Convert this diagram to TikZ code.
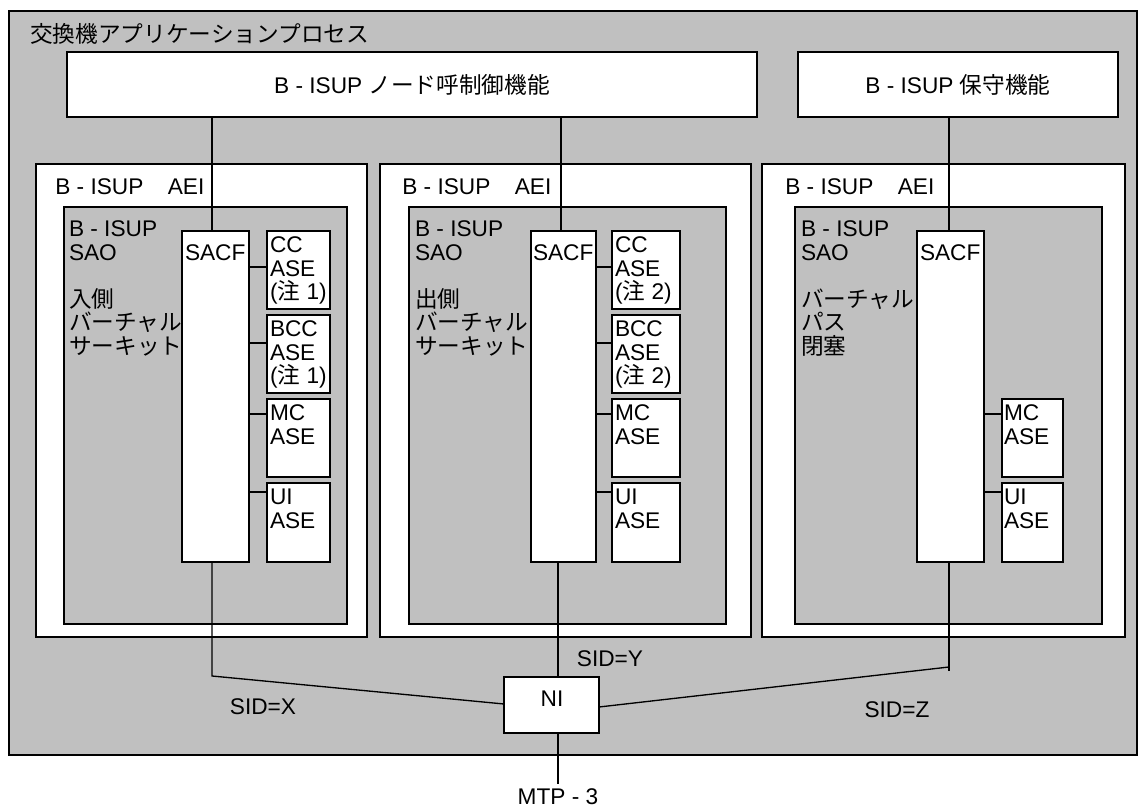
\documentclass[tikz,border=0pt]{standalone}
\usepackage{fontspec}
\setmainfont{Liberation Sans}
\newfontfamily\jp{Noto Sans CJK JP}
\definecolor{bggray}{RGB}{192,192,192}
\tikzset{
  every node/.style={font=\fontsize{17}{17.6}\selectfont},
  box/.style 2 args={draw, line width=1.3pt, anchor=north west, inner sep=0pt, outer sep=0pt,
    minimum width=#1*0.75pt, minimum height=#2*0.75pt},
  whitebox/.style 2 args={box={#1}{#2}, fill=white},
  graybox/.style 2 args={box={#1}{#2}, fill=bggray},
  lbl/.style={inner sep=0pt, outer sep=0pt, anchor=north west, align=left},
  wire/.style={line width=1.0pt},
}
\begin{document}
\lineskiplimit=-50pt
\begin{tikzpicture}[x=0.75pt,y=-0.75pt]
\useasboundingbox (0,0) rectangle (1139,809);
% outer process
\node[graybox={1128}{744}] (outer) at (9,11) {};
\node[inner sep=0pt, anchor=west] (title) at (30,34) {\jp 交換機アプリケーションプロセス};
% top functions
\node[whitebox={690}{65}] (top1) at (67,52) {B - ISUP {\jp ノード呼制御機能}};
\node[whitebox={320}{65}] (top2) at (798,52) {B - ISUP {\jp 保守機能}};
% AEI boxes
\node[whitebox={331}{473}] (aei1) at (36,164) {};
\node[whitebox={371}{473}] (aei2) at (380,164) {};
\node[whitebox={363}{473}] (aei3) at (762,164) {};
\node[inner sep=0pt, anchor=west] (aeil1) at (55,187) {B - ISUP\hspace{0.8em} AEI};
\node[inner sep=0pt, anchor=west] (aeil2) at (402,187) {B - ISUP\hspace{0.8em} AEI};
\node[inner sep=0pt, anchor=west] (aeil3) at (785,187) {B - ISUP\hspace{0.8em} AEI};
% SAO boxes
\node[graybox={283}{417}] (sao1) at (64,207) {};
\node[graybox={317}{417}] (sao2) at (409,207) {};
\node[graybox={307}{417}] (sao3) at (795,207) {};
\node[lbl] (saol1) at (69,221) {B - ISUP\\SAO\\ \\{\jp 入側}\\{\jp バーチャル}\\{\jp サーキット}};
\node[lbl] (saol2) at (415,221) {B - ISUP\\SAO\\ \\{\jp 出側}\\{\jp バーチャル}\\{\jp サーキット}};
\node[lbl] (saol3) at (801,221) {B - ISUP\\SAO\\ \\{\jp バーチャル}\\{\jp パス}\\{\jp 閉塞}};
% SACF boxes
\node[whitebox={67}{331}] (sacf1) at (182,231) {};
\node[whitebox={65}{331}] (sacf2) at (531,231) {};
\node[whitebox={67}{331}] (sacf3) at (917,231) {};
\node[lbl] (sacfl1) at (185,245) {SACF};
\node[lbl] (sacfl2) at (533,245) {SACF};
\node[lbl] (sacfl3) at (920,245) {SACF};
% ASE boxes, column 1
\node[whitebox={63}{78}] (cc1) at (267,231) {};
\node[whitebox={63}{78}] (bcc1) at (267,315) {};
\node[whitebox={63}{78}] (mc1) at (267,399) {};
\node[whitebox={63}{79}] (ui1) at (267,483) {};
\node[lbl] (ccl1) at (270,237) {CC\\ASE\\({\jp 注} 1)};
\node[lbl] (bccl1) at (270,321) {BCC\\ASE\\({\jp 注} 1)};
\node[lbl] (mcl1) at (270,405) {MC\\ASE};
\node[lbl] (uil1) at (270,489) {UI\\ASE};
% ASE boxes, column 2
\node[whitebox={68}{78}] (cc2) at (612,231) {};
\node[whitebox={68}{78}] (bcc2) at (612,315) {};
\node[whitebox={68}{78}] (mc2) at (612,399) {};
\node[whitebox={68}{79}] (ui2) at (612,483) {};
\node[lbl] (ccl2) at (615,237) {CC\\ASE\\({\jp 注} 2)};
\node[lbl] (bccl2) at (615,321) {BCC\\ASE\\({\jp 注} 2)};
\node[lbl] (mcl2) at (615,405) {MC\\ASE};
\node[lbl] (uil2) at (615,489) {UI\\ASE};
% ASE boxes, column 3
\node[whitebox={61}{78}] (mc3) at (1002,399) {};
\node[whitebox={61}{79}] (ui3) at (1002,483) {};
\node[lbl] (mcl3) at (1004,405) {MC\\ASE};
\node[lbl] (uil3) at (1004,489) {UI\\ASE};
% NI
\node[whitebox={95}{56}] (ni) at (504,677) {};
\node (nil) at (552,699) {NI};
% helper coordinates
\coordinate (xa) at (212,0);
\coordinate (xb) at (561,0);
\coordinate (xc) at (949,0);
\coordinate (xd) at (558,0);
\coordinate (ya) at (0,267);
\coordinate (yb) at (0,343);
\coordinate (yc) at (0,414);
\coordinate (yd) at (0,492);
\coordinate (yn1) at (0,704);
\coordinate (yn3) at (0,707);
\coordinate (k1) at (212,676);
\coordinate (k3) at (949,667);
\coordinate (k3e) at (949,671);
\coordinate (mtpend) at (558,784);
% wires from top functions
\draw[wire] (top1.south -| xa) -- (sacf1.north -| xa);
\draw[wire] (top1.south -| xb) -- (sacf2.north -| xb);
\draw[wire] (top2.south -| xc) -- (sacf3.north -| xc);
% SACF to ASE
\draw[wire] (sacf1.east |- ya) -- (cc1.west |- ya);
\draw[wire] (sacf1.east |- yb) -- (bcc1.west |- yb);
\draw[wire] (sacf1.east |- yc) -- (mc1.west |- yc);
\draw[wire] (sacf1.east |- yd) -- (ui1.west |- yd);
\draw[wire] (sacf2.east |- ya) -- (cc2.west |- ya);
\draw[wire] (sacf2.east |- yb) -- (bcc2.west |- yb);
\draw[wire] (sacf2.east |- yc) -- (mc2.west |- yc);
\draw[wire] (sacf2.east |- yd) -- (ui2.west |- yd);
\draw[wire] (sacf3.east |- yc) -- (mc3.west |- yc);
\draw[wire] (sacf3.east |- yd) -- (ui3.west |- yd);
% to NI
\draw[wire] (sacf1.south -| xa) -- (k1) -- (ni.west |- yn1);
\draw[wire] (sacf2.south -| xd) -- (ni.north -| xd);
\draw[wire] (sacf3.south -| xc) -- (k3e);
\draw[wire] (ni.east |- yn3) -- (k3);
\draw[wire] (ni.south -| xd) -- (mtpend);
% labels
\node (sidx) at (263,707) {SID=X};
\node (sidy) at (610,659) {SID=Y};
\node (sidz) at (897,710) {SID=Z};
\node[anchor=base, inner sep=0pt] (mtp) at (558,804) {MTP - 3};
\end{tikzpicture}
\end{document}
